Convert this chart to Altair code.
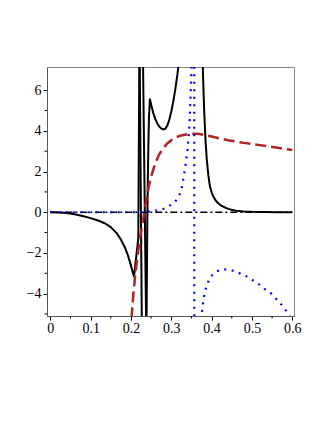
import altair as alt
import pandas as pd

# ---------------- data ----------------
# black solid curve, split at its poles
black_a_x = [0, 0.02, 0.04, 0.06, 0.08, 0.10, 0.12, 0.135, 0.15, 0.165, 0.175, 0.185, 0.193, 0.199, 0.203, 0.2075, 0.2182, 0.2207, 0.2210]
black_a_y = [0, -0.01, -0.04, -0.10, -0.18, -0.29, -0.42, -0.54, -0.73, -1.04, -1.34, -1.73, -2.15, -2.55, -2.85, -3.16, -1.28, 7.1, 8.5]
black_b_x = [0.2212, 0.2272]
black_b_y = [8.5, -6.0]
black_c_x = [0.2292, 0.2380]
black_c_y = [8.5, -6.0]
black_d_x = [0.2385, 0.2395, 0.2405, 0.2418, 0.2432, 0.2447, 0.247, 0.25, 0.255, 0.26, 0.265, 0.27, 0.275,
             0.28, 0.285, 0.29, 0.295, 0.30, 0.305, 0.31, 0.315, 0.32, 0.33, 0.34, 0.355, 0.368, 0.374,
             0.378, 0.380, 0.382, 0.385, 0.388, 0.392, 0.396, 0.40, 0.405, 0.41, 0.417, 0.425, 0.435,
             0.446, 0.46, 0.48, 0.50, 0.53, 0.56, 0.60]
black_d_y = [-6.0, -3.0, -0.5, 1.5, 3.3, 4.7, 5.55, 5.3, 4.9, 4.6, 4.38, 4.22, 4.12,
             4.07, 4.1, 4.25, 4.55, 4.95, 5.45, 6.05, 6.75, 7.6, 9.8, 12.5, 14.0, 11.0, 8.6,
             7.3, 5.9, 4.8, 3.5, 2.6, 1.8, 1.25, 0.98, 0.75, 0.58, 0.43, 0.31, 0.21,
             0.14, 0.08, 0.04, 0.02, 0.01, 0.005, 0.0]

# red dashed curve
red_x = [0.199, 0.2018, 0.205, 0.21, 0.215, 0.22, 0.225, 0.23, 0.235, 0.24, 0.245, 0.25, 0.26, 0.27,
         0.28, 0.29, 0.30, 0.31, 0.32, 0.33, 0.34, 0.35, 0.36, 0.37, 0.38, 0.40, 0.44, 0.48, 0.52, 0.56, 0.60]
red_y = [-6.0, -5.1, -4.25, -3.2, -2.35, -1.6, -0.95, -0.4, 0.25, 0.85, 1.35, 1.75, 2.4, 2.85,
         3.15, 3.38, 3.54, 3.66, 3.75, 3.8, 3.84, 3.86, 3.86, 3.85, 3.81, 3.72, 3.54, 3.41, 3.30, 3.18, 3.06]

# blue dotted curve, split at its pole
blue_a_x = [0, 0.05, 0.10, 0.15, 0.20, 0.23, 0.24, 0.251, 0.262, 0.272, 0.281, 0.289, 0.297, 0.305, 0.311,
            0.317, 0.322, 0.326, 0.3315, 0.336, 0.340, 0.343, 0.3455, 0.3475, 0.349, 0.3505, 0.352]
blue_a_y = [0, 0, 0, 0, 0, 0.005, 0.02, 0.06, 0.085, 0.11, 0.17, 0.25, 0.34, 0.44, 0.56,
            0.72, 0.93, 1.2, 1.83, 2.4, 3.0, 3.7, 4.5, 5.5, 6.4, 7.3, 9.0]
blue_b_x = [0.357, 0.357]
blue_b_y = [9.0, -6.0]
blue_c_x = [0.372, 0.3754, 0.3775, 0.3800, 0.3836, 0.3893, 0.3977, 0.4109, 0.429, 0.448, 0.466, 0.4845,
            0.501, 0.5175, 0.532, 0.547, 0.561, 0.574, 0.586, 0.60]
blue_c_y = [-6.0, -5.05, -4.65, -4.28, -3.90, -3.52, -3.16, -2.92, -2.80, -2.84, -2.97, -3.13,
            -3.33, -3.54, -3.78, -3.98, -4.28, -4.56, -4.88, -5.3]

# black dash-dot line
zero_x = [0, 0.6]
zero_y = [0, 0]

# axis ticks
x_major = [0, 0.1, 0.2, 0.3, 0.4, 0.5, 0.6]
x_minor = [0.05, 0.15, 0.25, 0.35, 0.45, 0.55]
y_major = [-4, -2, 0, 2, 4, 6]
y_minor = [-5, -3, -1, 1, 3, 5]

X_DOMAIN = [-0.0082, 0.6043]
Y_DOMAIN = [-5.10, 7.14]
W, H = 247, 249


def segs(*pairs):
    rows = []
    for s, (xs, ys) in enumerate(pairs):
        for i, (a, b) in enumerate(zip(xs, ys)):
            rows.append({"x": a, "y": b, "seg": s, "i": i})
    return pd.DataFrame(rows)


FONT = "Liberation Serif"
xaxis = alt.Axis(values=x_major, title=None, grid=False, tickSize=4, tickColor="black",
                 domainColor="#555", labelFont=FONT, labelFontSize=14, labelColor="black",
                 labelPadding=1, labelFlush=False, labelOverlap=False,
                 labelExpr="datum.value == 0 ? '0' : format(datum.value, '.1f')")
yaxis = alt.Axis(values=y_major, title=None, grid=False, tickSize=4, tickColor="black",
                 domainColor="#555", labelFont=FONT, labelFontSize=14, labelColor="black",
                 labelPadding=2, labelOverlap=False, format="d")
xs = alt.Scale(domain=X_DOMAIN, nice=False, zero=False)
ys = alt.Scale(domain=Y_DOMAIN, nice=False, zero=False)


def enc(ch):
    return ch.encode(x=alt.X("x:Q", scale=xs, axis=xaxis),
                     y=alt.Y("y:Q", scale=ys, axis=yaxis),
                     detail="seg:N", order="i:Q")


black = enc(alt.Chart(segs((black_a_x, black_a_y), (black_b_x, black_b_y),
                           (black_c_x, black_c_y), (black_d_x, black_d_y)))
            .mark_line(color="black", strokeWidth=2, clip=True, strokeJoin="round"))
red = enc(alt.Chart(segs((red_x, red_y)))
          .mark_line(color="#B22222", strokeWidth=2.5, strokeDash=[11, 5], clip=True))
zero = enc(alt.Chart(segs((zero_x, zero_y)))
           .mark_line(color="black", strokeWidth=1.5, strokeDash=[7, 3, 2, 3], clip=True))
blue = enc(alt.Chart(segs((blue_a_x, blue_a_y), (blue_b_x, blue_b_y), (blue_c_x, blue_c_y)))
           .mark_line(color="#0000FF", strokeWidth=2.2, strokeDash=[2, 5.5], clip=True))

xminor = alt.Chart(pd.DataFrame({"x": x_minor})).mark_rule(color="black", strokeWidth=1).encode(
    x=alt.X("x:Q", scale=xs, axis=xaxis), y=alt.value(H), y2=alt.value(H + 2.5))
yminor = alt.Chart(pd.DataFrame({"y": y_minor})).mark_rule(color="black", strokeWidth=1).encode(
    y=alt.Y("y:Q", scale=ys, axis=yaxis), x=alt.value(0), x2=alt.value(-2.5))

chart = alt.layer(black, red, zero, blue, xminor, yminor).properties(
    width=W, height=H,
    autosize=alt.AutoSizeParams(type="none"),
    padding={"left": 39, "top": 59, "right": 25, "bottom": 90},
).configure_view(stroke="#888", strokeWidth=1)

chart.save("out.html", embed_options={"renderer": "svg", "actions": False})
